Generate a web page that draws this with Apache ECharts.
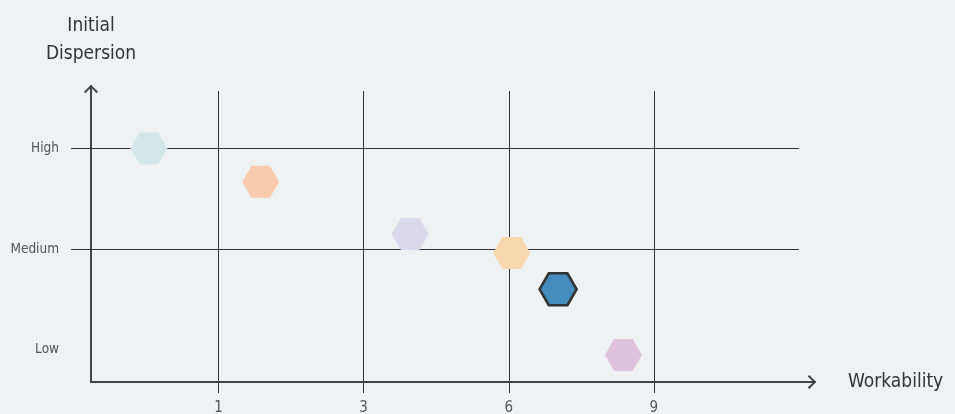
<!DOCTYPE html>
<html>
<head>
<meta charset="utf-8">
<script src="https://cdn.jsdelivr.net/npm/echarts@6/dist/echarts.min.js"></script>
<style>
html,body{margin:0;padding:0;background:#eef2f3;}
#chart{width:955px;height:414px;}
</style>
</head>
<body>
<div id="chart"></div>
<script>
// ---- data ----
const xTickValues = [1, 3, 6, 9];              // workability tick labels (evenly spaced on the chart)
const yCategories = ['Low', 'Medium', 'High'];  // dispersion levels (1, 2, 3)
const workability = [0.52, 1.58, 3.96, 6.06, 7.02, 8.37];
const dispersion  = [3.0, 2.67, 2.15, 1.96, 1.60, 0.945];
const pointColors = ['#d3e6e8', '#f8cbad', '#dcd8ec', '#f8d7ae', '#448ebf', '#e0c1dd'];
const highlightIndex = 4;

// piecewise map: workability value -> evenly-spaced tick position (tick i at i+1)
function toPos(v) {
  if (v <= xTickValues[0]) return v / xTickValues[0];
  for (let i = 0; i < xTickValues.length - 1; i++) {
    if (v <= xTickValues[i + 1]) {
      return i + 1 + (v - xTickValues[i]) / (xTickValues[i + 1] - xTickValues[i]);
    }
  }
  const n = xTickValues.length;
  return n + (v - xTickValues[n - 1]) / (xTickValues[n - 1] - xTickValues[n - 2]);
}

const FONT = "'Liberation Sans Narrow', 'DejaVu Sans Condensed', sans-serif";
const hexagon = 'path://M0,8.66 L5,0 L15,0 L20,8.66 L15,17.32 L5,17.32 Z';
const chevron = 'path://M7,0 L14,7 L12.6,8.4 L7,2.8 L1.4,8.4 L0,7 Z';

const tickPositions = xTickValues.map((v, i) => i + 1);
const yLevels = yCategories.map((c, i) => i + 1);

const chart = echarts.init(document.getElementById('chart'));
chart.setOption({
  backgroundColor: '#eef2f3',
  animation: false,
  grid: [
    { left: 91, right: 156, top: 91, bottom: 32, outerBoundsMode: 'none', containLabel: false },
    { left: 91, right: 140, top: 86, bottom: 32, outerBoundsMode: 'none', containLabel: false }
  ],
  xAxis: [
    {
      type: 'value', gridIndex: 0, min: 0.121, max: 5,
      axisLine: { show: false },
      axisTick: { show: true, customValues: tickPositions, length: 11, lineStyle: { color: '#333', width: 1 } },
      splitLine: { show: true, lineStyle: { color: '#333', width: 1 } },
      axisLabel: {
        customValues: tickPositions, margin: 19,
        formatter: v => String(xTickValues[Math.round(v) - 1]),
        color: '#555', fontFamily: FONT, fontSize: 15
      }
    },
    {
      type: 'value', gridIndex: 1, min: 0, max: 1,
      axisLine: {
        show: true, onZero: false, symbol: ['none', chevron], symbolSize: [14, 8.4], symbolOffset: [0, -3],
        lineStyle: { color: '#444', width: 2 }
      },
      axisTick: { show: false }, axisLabel: { show: false }, splitLine: { show: false },
      name: 'Workability', nameLocation: 'end', nameGap: 33,
      nameTextStyle: { color: '#333', fontFamily: FONT, fontSize: 19, align: 'left', verticalAlign: 'middle' }
    }
  ],
  yAxis: [
    {
      type: 'value', gridIndex: 0, min: 0.677, max: 3.572,
      axisLine: { show: false },
      axisTick: { show: true, customValues: [2, 3], length: 20, lineStyle: { color: '#333', width: 1 } },
      splitLine: { show: true, lineStyle: { color: '#333', width: 1 } },
      axisLabel: {
        customValues: yLevels, margin: 32,
        formatter: v => yCategories[Math.round(v) - 1],
        color: '#555', fontFamily: FONT, fontSize: 13.5
      }
    },
    {
      type: 'value', gridIndex: 1, min: 0, max: 1,
      axisLine: {
        show: true, onZero: false, symbol: ['none', chevron], symbolSize: [14, 8.4], symbolOffset: [0, -3],
        lineStyle: { color: '#444', width: 2 }
      },
      axisTick: { show: false }, axisLabel: { show: false }, splitLine: { show: false },
      name: 'Initial\nDispersion', nameLocation: 'end', nameGap: 18,
      nameTextStyle: { color: '#333', fontFamily: FONT, fontSize: 19, lineHeight: 28, align: 'center' }
    }
  ],
  series: [{
    type: 'scatter', xAxisIndex: 0, yAxisIndex: 0,
    symbol: hexagon, symbolSize: [37, 32],
    data: workability.map((w, i) => ({
      value: [toPos(w), dispersion[i]],
      itemStyle: i === highlightIndex
        ? { color: pointColors[i], borderColor: '#333', borderWidth: 2.5, opacity: 1 }
        : { color: pointColors[i], opacity: 1 }
    })),
    z: 5
  }]
});
</script>
</body>
</html>
